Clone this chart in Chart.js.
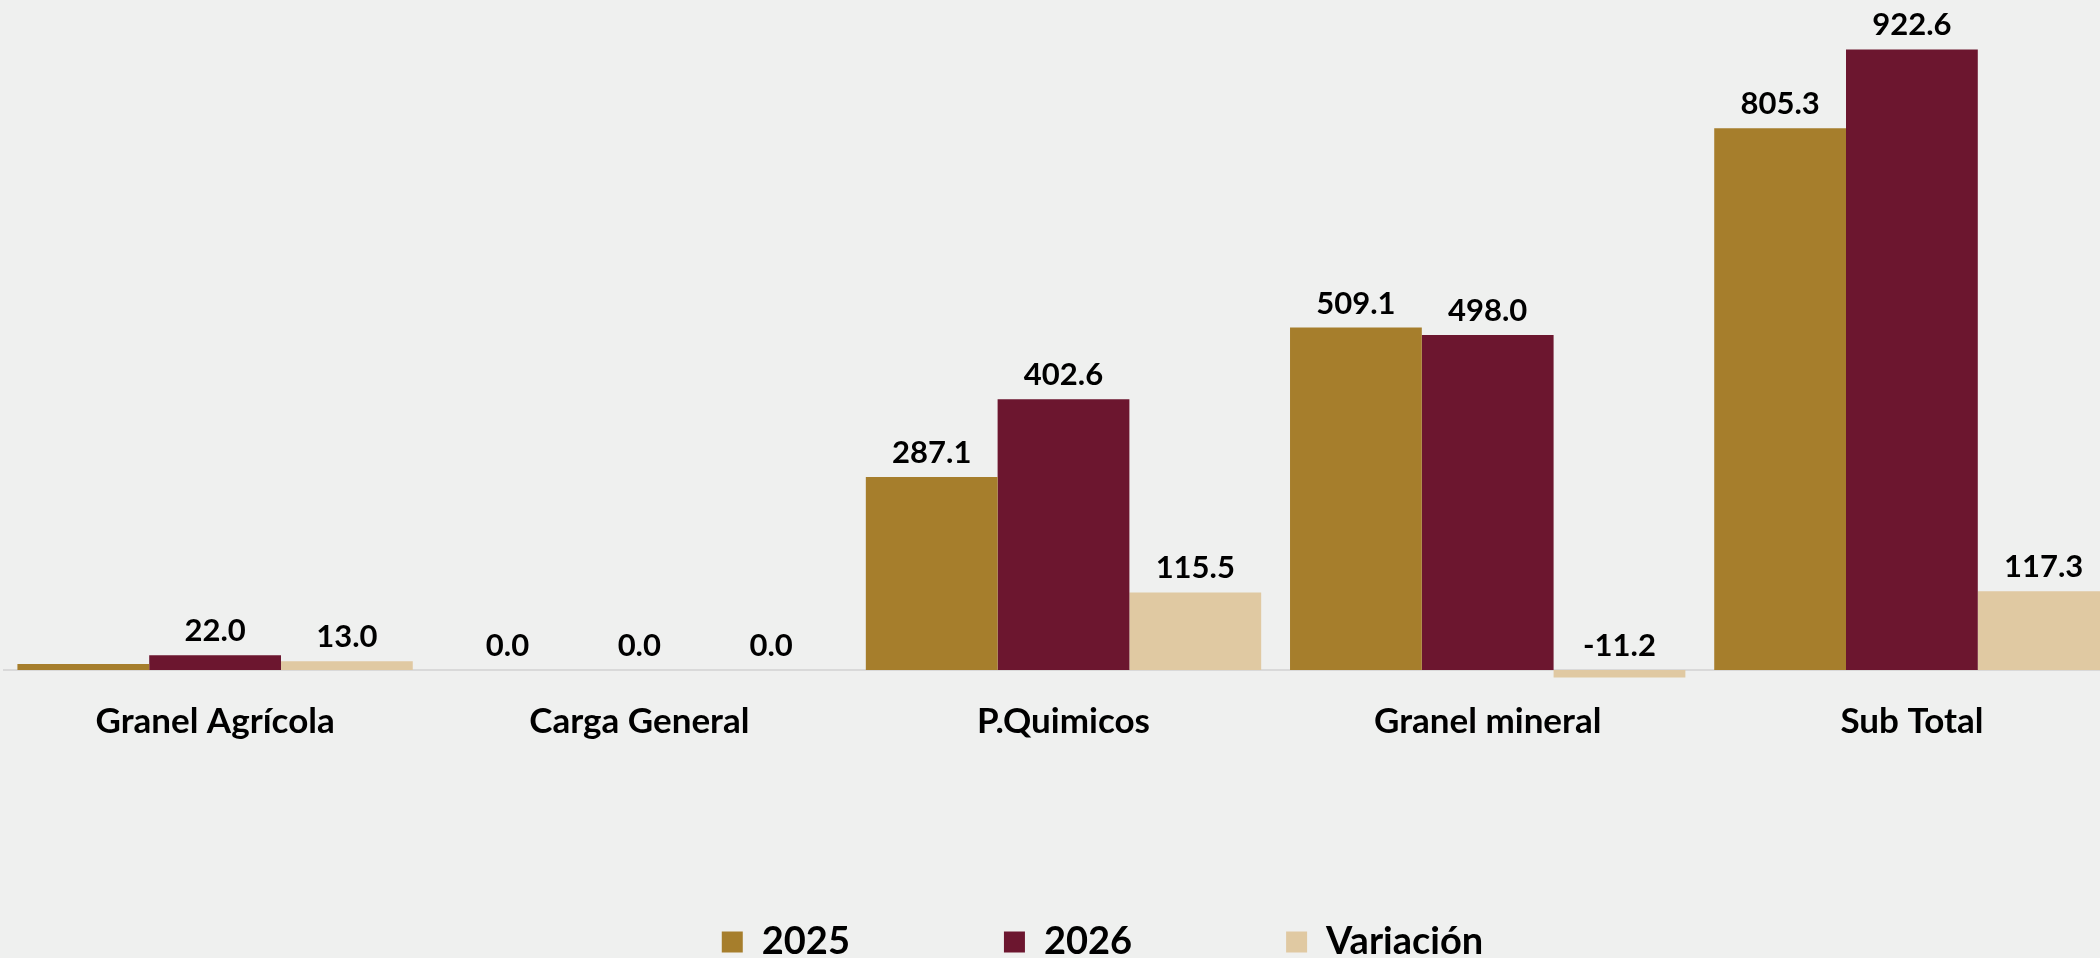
<!DOCTYPE html>
<html>
<head>
<meta charset="utf-8">
<script src="https://cdn.jsdelivr.net/npm/chart.js@4.4.1/dist/chart.umd.min.js"></script>
<style>
  html, body { margin: 0; padding: 0; background: #eff0ef; overflow: hidden; }
  #wrap { position: absolute; left: 0; top: 0; }
</style>
</head>
<body>
<div id="wrap"><canvas id="bar-chart-carga" width="2202" height="971"></canvas></div>
<script>
const categories = ["Granel Agrícola", "Carga General", "P.Quimicos", "Granel mineral", "Sub Total"];
const values2025 = [9.0, 0.0, 287.1, 509.1, 805.3];
const values2026 = [22.0, 0.0, 402.6, 498.0, 922.6];
const variacion = [13.0, 0.0, 115.5, -11.2, 117.3];
// [dataset, point] pairs whose value label is not shown
const hiddenLabels = [[0, 0]];

const FONT = "Lato";

const valueLabels = {
    id: 'valueLabels',
    beforeDatasetsDraw(chart) {
        const {ctx, chartArea, scales: {y}} = chart;
        const y0 = y.getPixelForValue(0);
        ctx.save();
        ctx.strokeStyle = '#d9d9d9';
        ctx.lineWidth = 2;
        ctx.beginPath();
        ctx.moveTo(chartArea.left, y0);
        ctx.lineTo(chartArea.right, y0);
        ctx.stroke();
        ctx.restore();
    },
    afterDatasetsDraw(chart) {
        const ctx = chart.ctx;
        ctx.save();
        ctx.font = "bold 31px " + FONT;
        ctx.fillStyle = '#000000';
        ctx.textAlign = 'center';
        ctx.textBaseline = 'alphabetic';
        chart.data.datasets.forEach((ds, i) => {
            chart.getDatasetMeta(i).data.forEach((bar, j) => {
                if (hiddenLabels.some(h => h[0] === i && h[1] === j)) return;
                const top = Math.min(bar.y, bar.base);
                ctx.fillText(ds.data[j].toFixed(1), bar.x, top - 14);
            });
        });
        ctx.restore();
    }
};

new Chart(document.getElementById("bar-chart-carga"), {
    type: 'bar',
    data: {
        labels: categories,
        datasets: [
            { label: "2025", backgroundColor: "#a67e2c", data: values2025 },
            { label: "2026", backgroundColor: "#6c162f", data: values2026 },
            { label: "Variación", backgroundColor: "#e0c9a2", data: variacion }
        ]
    },
    options: {
        responsive: false,
        animation: false,
        categoryPercentage: 0.932,
        barPercentage: 1.0,
        layout: { padding: { left: 3, right: 0, top: 0, bottom: 0 } },
        plugins: {
            tooltip: { enabled: false },
            legend: {
                position: 'bottom',
                labels: {
                    color: '#000000',
                    font: { family: FONT, size: 38, weight: 'bold' },
                    boxWidth: 21,
                    boxHeight: 21,
                    padding: 154
                }
            }
        },
        scales: {
            x: {
                grid: { display: false, drawTicks: false },
                border: { display: false },
                ticks: {
                    color: '#000000',
                    font: { family: FONT, size: 35, weight: 'bold' },
                    padding: 4,
                    maxRotation: 0
                },
                afterFit(scale) { scale.height = 72; }
            },
            y: {
                position: 'right',
                min: -40,
                max: 996,
                grid: { display: false, drawTicks: false },
                border: { display: false },
                ticks: { display: false },
                afterFit(scale) { scale.width = 78; }
            }
        }
    },
    plugins: [valueLabels]
});
</script>
</body>
</html>
